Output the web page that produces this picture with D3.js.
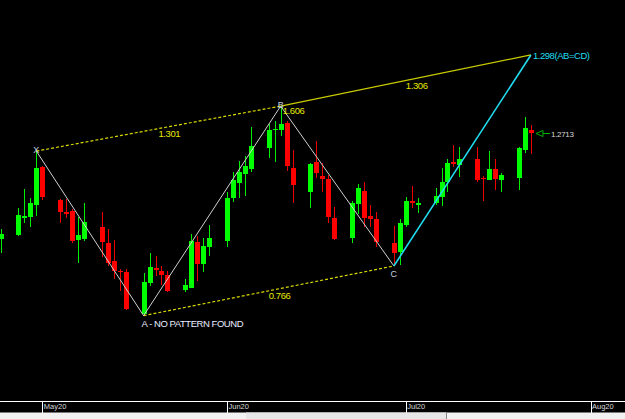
<!DOCTYPE html>
<html lang="en">
<head>
<meta charset="UTF-8">
<title>GBPUSD pattern</title>
<script src="https://d3js.org/d3.v7.min.js"></script>
<style>
    body { margin: 0; background-color: #000000; }
    svg { display: block; }
    text { font-family: "Liberation Sans", Arial, sans-serif; }
</style>
</head>
<body>

<div id="my_dataviz"></div>

<script>

//data
var days = ["2020-04-24",
    "2020-04-27","2020-04-28","2020-04-29","2020-04-30","2020-05-01",
    "2020-05-04","2020-05-05","2020-05-06","2020-05-07","2020-05-08",
    "2020-05-11","2020-05-12","2020-05-13","2020-05-14","2020-05-15",
    "2020-05-18","2020-05-19","2020-05-20","2020-05-21","2020-05-22",
    "2020-05-25","2020-05-26","2020-05-27","2020-05-28","2020-05-29",
    "2020-06-01","2020-06-02","2020-06-03","2020-06-04","2020-06-05",
    "2020-06-08","2020-06-09","2020-06-10","2020-06-11","2020-06-12",
    "2020-06-15","2020-06-16","2020-06-17","2020-06-18","2020-06-19",
    "2020-06-22","2020-06-23","2020-06-24","2020-06-25","2020-06-26",
    "2020-06-29","2020-06-30","2020-07-01","2020-07-02","2020-07-03",
    "2020-07-06","2020-07-07","2020-07-08","2020-07-09","2020-07-10",
    "2020-07-13","2020-07-14","2020-07-15","2020-07-16","2020-07-17",
    "2020-07-20","2020-07-21","2020-07-22"];

var opens = [1.2351,
    1.2365,1.2424,1.2426,1.2468,1.2596,
    1.2484,1.2443,1.2447,1.2346,1.2351,
    1.2391,1.2338,1.2275,1.2242,1.2238,
    1.2092,1.2201,1.2251,1.2241,1.2226,
    1.2176,1.2184,1.2340,1.2266,1.2324,
    1.2344,1.2492,1.2543,1.2574,1.2591,
    1.2663,1.2722,1.2724,1.2747,1.2594,
    1.2512,1.2614,1.2566,1.2556,1.2422,
    1.2354,1.2470,1.2515,1.2429,1.2419,
    1.2337,1.2306,1.2399,1.2480,1.2468,
    1.2473,1.2493,1.2546,1.2614,1.2603,
    1.2623,1.2559,1.2552,1.2589,1.2552,
    1.2558,1.2655,1.2723];

var highs = [1.2385,
    1.2458,1.2522,1.2490,1.2651,1.2600,
    1.2486,1.2486,1.2452,1.2427,1.2473,
    1.2444,1.2384,1.2347,1.2249,1.2247,
    1.2233,1.2304,1.2292,1.2258,1.2241,
    1.2213,1.2368,1.2361,1.2353,1.2398,
    1.2510,1.2579,1.2617,1.2633,1.2732,
    1.2743,1.2754,1.2805,1.2754,1.2655,
    1.2610,1.2686,1.2610,1.2569,1.2461,
    1.2482,1.2539,1.2546,1.2466,1.2443,
    1.2395,1.2418,1.2494,1.2532,1.2491,
    1.2524,1.2593,1.2623,1.2671,1.2664,
    1.2666,1.2566,1.2650,1.2625,1.2577,
    1.2666,1.2769,1.2740];

var lows = [1.2303,
    1.2362,1.2405,1.2391,1.2429,1.2484,
    1.2406,1.2421,1.2338,1.2269,1.2345,
    1.2288,1.2258,1.2215,1.2174,1.2109,
    1.2088,1.2191,1.2224,1.2192,1.2168,
    1.2170,1.2181,1.2207,1.2238,1.2292,
    1.2324,1.2478,1.2492,1.2499,1.2581,
    1.2627,1.2615,1.2704,1.2583,1.2475,
    1.2456,1.2558,1.2512,1.2404,1.2347,
    1.2338,1.2436,1.2391,1.2391,1.2323,
    1.2258,1.2263,1.2391,1.2458,1.2440,
    1.2467,1.2464,1.2510,1.2598,1.2564,
    1.2546,1.2481,1.2551,1.2518,1.2511,
    1.2518,1.2646,1.2641];

var closes = [1.2368,
    1.2433,1.2428,1.2474,1.2593,1.2493,
    1.2444,1.2437,1.2345,1.2364,1.2408,
    1.2339,1.2269,1.2242,1.2237,1.2111,
    1.2203,1.2256,1.2246,1.2228,1.2174,
    1.2193,1.2344,1.2266,1.2327,1.2353,
    1.2492,1.2552,1.2579,1.2599,1.2669,
    1.2723,1.2728,1.2745,1.2601,1.2535,
    1.2607,1.2575,1.2557,1.2425,1.2351,
    1.2475,1.2525,1.2422,1.2420,1.2339,
    1.2304,1.2406,1.2479,1.2473,1.2474,
    1.2498,1.2546,1.2611,1.2606,1.2623,
    1.2552,1.2555,1.2589,1.2555,1.2569,
    1.2662,1.2731,1.2713];

//harmonic pattern points X A B C D
var pointNames = ["X", "A", "B", "C", "D"];
var pointDays = ["2020-04-30", "2020-05-18", "2020-06-10", "2020-06-29", "2020-07-22"];
var pointPrices = [1.2651, 1.2088, 1.2805, 1.2258, 1.2980];

//ratio labels: XB, AC, BD, and the one next to B
var ratioXB = "1.301", ratioAC = "0.766", ratioBD = "1.306", ratioB = "1.606";
var targetLabel = "1.298(AB=CD)";
var aLabel = "A - NO PATTERN FOUND";
var lastPrice = 1.2713;

//month ticks
var monthTicks = ["2020-05-01", "2020-06-01", "2020-07-01", "2020-08-01"];

var parse = d3.timeParse("%Y-%m-%d");

var candles = days.map(function(d, i) {
    return {date: parse(d), o: opens[i], h: highs[i], l: lows[i], c: closes[i]};
});
var points = pointNames.map(function(n, i) {
    return {name: n, date: parse(pointDays[i]), price: pointPrices[i]};
});

//dimensions
var width = 625, height = 419, plotBottom = 401;

var svg = d3.select("#my_dataviz")
    .append("svg")
        .attr("width", width)
        .attr("height", height)
        .style("background-color", "#000000");

//scales
var x = d3.scaleTime()
    .domain([parse("2020-05-01"), parse("2020-08-01")])
    .range([42.3, 590.5]);

var y = d3.scaleLinear()
    .domain([1.1796, 1.3168])
    .range([plotBottom, 0]);

var plot = svg.append("g");

//candles
var bar = plot.selectAll("g.candle")
    .data(candles)
    .enter()
    .append("g")
        .attr("class", "candle");

bar.append("line")
    .attr("x1", function(d) { return Math.round(x(d.date)) + 0.5; })
    .attr("x2", function(d) { return Math.round(x(d.date)) + 0.5; })
    .attr("y1", function(d) { return y(d.h); })
    .attr("y2", function(d) { return y(d.l); })
    .attr("stroke", function(d) { return d.c >= d.o ? "#00ee00" : "#ee0000"; })
    .attr("stroke-width", 1)
    .attr("shape-rendering", "crispEdges");

bar.append("rect")
    .attr("x", function(d) { return Math.round(x(d.date)) - 2; })
    .attr("width", 5)
    .attr("y", function(d) { return y(Math.max(d.o, d.c)); })
    .attr("height", function(d) { return Math.max(1.5, Math.abs(y(d.o) - y(d.c))); })
    .attr("fill", function(d) { return d.c >= d.o ? "#00ff00" : "#ff0000"; })
    .attr("shape-rendering", "crispEdges");

//pattern lines
function px(p) { return x(p.date); }
function py(p) { return y(p.price); }
var X = points[0], A = points[1], B = points[2], C = points[3], D = points[4];

function seg(p1, p2, color, w, dash) {
    var l = plot.append("line")
        .attr("x1", px(p1)).attr("y1", py(p1))
        .attr("x2", px(p2)).attr("y2", py(p2))
        .attr("stroke", color)
        .attr("stroke-width", w);
    if (dash) l.attr("stroke-dasharray", dash);
    return l;
}

seg(X, B, "#d8d800", 1.2, "3,2");
seg(A, C, "#d8d800", 1.2, "3,2");
seg(B, D, "#caca00", 1.2, null);
seg(X, A, "#d0d0d0", 1, null);
seg(A, B, "#d0d0d0", 1, null);
seg(B, C, "#d0d0d0", 1, null);
seg(C, D, "#20dcf0", 1.6, null);

//ratio labels at the middle of the dotted lines
function ratio(p1, p2, txt) {
    plot.append("text")
        .attr("x", (px(p1) + px(p2)) / 2)
        .attr("y", (py(p1) + py(p2)) / 2 + 8)
        .style("font-size", "9.5px")
        .style("letter-spacing", "-0.4px")
        .attr("fill", "#e8e800")
        .text(txt);
}
ratio(X, B, ratioXB);
ratio(A, C, ratioAC);
ratio(B, D, ratioBD);

plot.append("text")
    .attr("x", px(B) + 2)
    .attr("y", py(B) + 8)
    .style("font-size", "9.5px")
    .style("letter-spacing", "-0.4px")
    .attr("fill", "#e8e800")
    .text(ratioB);

//point letters
plot.selectAll("text.pt")
    .data([X, B, C])
    .enter()
    .append("text")
        .attr("class", "pt")
        .attr("x", function(d) { return px(d); })
        .attr("y", function(d) { return d.name == "C" ? py(d) + 11 : py(d) + 2; })
        .attr("text-anchor", "middle")
        .style("font-size", "9px")
        .attr("fill", "#c4d0e0")
        .text(function(d) { return d.name; });

plot.append("text")
    .attr("x", px(A) - 2)
    .attr("y", py(A) + 11)
    .style("font-size", "9.5px")
    .style("letter-spacing", "-0.45px")
    .attr("fill", "#e8ecff")
    .text(aLabel);

plot.append("text")
    .attr("x", px(D) + 2)
    .attr("y", py(D) + 4)
    .style("font-size", "9.5px")
    .style("letter-spacing", "-0.45px")
    .attr("fill", "#20dcf0")
    .text(targetLabel);

//last price arrow
var last = candles[candles.length - 1];
var ay = Math.round(y(lastPrice)) + 0.5, ax = Math.round(x(last.date)) + 5;
plot.append("path")
    .attr("d", "M" + ax + "," + ay + "L" + (ax + 7) + "," + (ay - 3) + "L" + (ax + 7) + "," + (ay + 3) + "Z" +
        "M" + (ax + 7) + "," + ay + "L" + (ax + 14) + "," + ay)
    .attr("fill", "none")
    .attr("stroke", "#00b000")
    .attr("stroke-width", 1);

plot.append("text")
    .attr("x", ax + 15)
    .attr("y", ay + 3)
    .style("font-size", "8px")
    .style("letter-spacing", "-0.3px")
    .attr("fill", "#d8d8d8")
    .text(lastPrice.toFixed(4));

//x axis
svg.append("line")
    .attr("x1", 0).attr("x2", width)
    .attr("y1", plotBottom + 0.5).attr("y2", plotBottom + 0.5)
    .attr("stroke", "#ffffff");

var xAxis = svg.append("g")
    .attr("transform", "translate(0," + (plotBottom + 0.5) + ")")
    .call(d3.axisBottom(x)
        .tickValues(monthTicks.map(parse))
        .tickFormat(d3.timeFormat("%b%y"))
        .tickSize(11)
        .tickSizeOuter(0));
xAxis.select(".domain").remove();
xAxis.selectAll(".tick line")
    .attr("stroke", "#ffffff")
    .attr("shape-rendering", "crispEdges");
xAxis.selectAll(".tick text")
    .attr("fill", "#d8d8d8")
    .attr("text-anchor", "start")
    .attr("x", 1)
    .attr("y", 2)
    .attr("dy", "0.71em")
    .style("font-size", "7.5px")
    .style("font-family", "Liberation Sans, Arial, sans-serif");

//scroll bar strip
svg.append("rect")
    .attr("x", 0).attr("y", 412.5)
    .attr("width", width).attr("height", 7)
    .attr("fill", "#f2f2f2");
svg.append("rect")
    .attr("x", 246).attr("y", 412.5)
    .attr("width", 200).attr("height", 7)
    .attr("fill", "#e6e6e6");
svg.append("line")
    .attr("x1", 446.5).attr("x2", 446.5)
    .attr("y1", 412.5).attr("y2", 419)
    .attr("stroke", "#888888");

</script>

</body>
</html>
